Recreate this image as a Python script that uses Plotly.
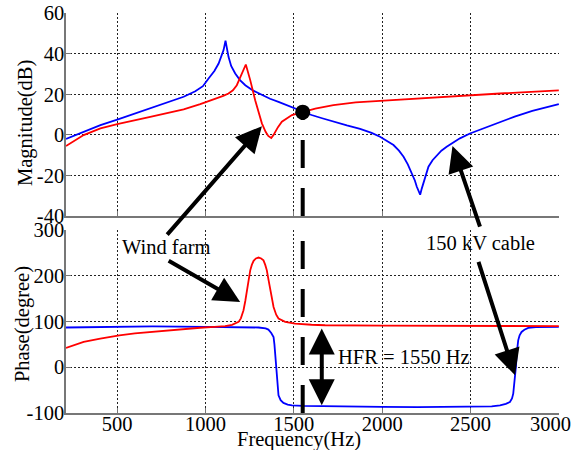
import plotly.graph_objects as go

# ---- Magnitude (dB) ----
freq_cable_mag = [210, 310, 405, 500, 590, 687, 782, 876, 942, 985, 1017, 1050, 1074, 1090,
                  1102, 1113, 1122, 1130, 1145, 1168, 1195, 1225, 1270, 1319, 1365, 1413,
                  1460, 1507, 1550, 1600, 1660, 1724, 1800, 1875, 1940, 1988, 2030, 2064,
                  2095, 2121, 2145, 2168, 2185, 2196, 2207, 2215, 2224, 2234, 2248, 2262,
                  2285, 2309, 2335, 2365, 2400, 2440, 2497, 2550, 2592, 2667, 2750, 2850,
                  2930, 3000]
mag_cable = [-2, 1.5, 4.8, 7.5, 10.2, 13, 16, 18.8, 21.5, 24, 27.8, 31.5, 35.2, 39,
             41.8, 46.4, 42, 38.5, 34, 30.3, 27, 24.5, 21.8, 19.6, 17.8, 16.3,
             14.6, 13, 11.3, 9.8, 8.2, 6.5, 4.7, 3, 1, -0.9, -3, -5,
             -7.8, -10.8, -14.5, -19, -22.5, -25.6, -28, -29.5, -26.5, -23.9, -19.5, -15.7,
             -12.5, -10, -7.8, -5.9, -3.8, -1.7, 0.7, 2.5, 4, 6.5, 9, 11.8,
             13.6, 15.2]

freq_wf_mag = [210, 310, 405, 500, 687, 876, 970, 1036, 1100, 1130, 1155, 1177, 1190, 1206,
               1228, 1253, 1281, 1319, 1340, 1355, 1372, 1385, 1394, 1410, 1432, 1460,
               1489, 1550, 1621, 1724, 1850, 1988, 2200, 2400, 2667, 3000]
mag_wf = [-5.5, -0.1, 3.2, 5.3, 8.9, 12.6, 15.2, 17.1, 19.2, 20.4, 22, 24.5, 27, 30.3,
          34.7, 27, 17.1, 5.7, 1.5, -0.5, -1.5, 0, 1.5, 3.8, 6.5, 8.3,
          9.8, 11.2, 13, 14.7, 16, 16.8, 18, 19.2, 20.4, 21.9]

# ---- Phase (degree) ----
freq_cable_ph = [210, 500, 700, 1000, 1111, 1200, 1300, 1340, 1356, 1372, 1385, 1390, 1394,
                 1399, 1404, 1408, 1413, 1425, 1441, 1465, 1489, 1550, 1677, 2000, 2200,
                 2554, 2620, 2667, 2700, 2723, 2735, 2742, 2750, 2757, 2763, 2770, 2778,
                 2789, 2805, 2827, 2870, 2911, 3000]
phase_cable = [87, 88, 89.5, 88.5, 88.5, 88, 87, 85, 82.5, 75, 66.4, 50, 30,
               0, -28.4, -48, -61.3, -72, -78, -81.5, -83.2, -84.5, -85.4, -86.5, -87,
               -86.9, -85.5, -83.2, -80, -75.9, -68, -57.6, -30, 0.7, 35, 59, 70,
               77.3, 82, 86, 87.8, 88.3, 88.3]

freq_wf_ph = [210, 310, 404, 512, 600, 688, 780, 876, 970, 1050, 1111, 1150, 1187, 1200,
              1215, 1225, 1234, 1243, 1253, 1262, 1272, 1285, 1300, 1315, 1328, 1338,
              1347, 1357, 1366, 1375, 1385, 1400, 1413, 1451, 1507, 1600, 1677, 2000,
              2500, 3000]
phase_wf = [42.3, 55.6, 62.9, 70, 74, 77.3, 80.5, 83.2, 86.5, 88.5, 90, 93, 99.3, 107,
            124.8, 145, 168.6, 190, 212, 224, 232.8, 238, 240, 238, 234, 224,
            212, 190, 168.6, 150, 132, 115, 106.7, 99.3, 95.6, 93, 92, 91,
            90, 90]

# High-frequency resonance point
hfr_freq = 1550
hfr_mag = 11.2

# Axis ranges and ticks
freq_range = [210, 3001]
freq_ticks = [500, 1000, 1500, 2000, 2500, 3000]
freq_ticktext = ["500", "1000", "1500", "2000", "2500", "3000"]
mag_range = [-40, 60.1]
mag_ticks = [-40, -20, 0, 20, 40, 60]
mag_ticktext = ["-40", "-20", "0", "20", "40", "60"]
phase_range = [-100, 300.3]
phase_ticks = [-100, 0, 100, 200, 300]
phase_ticktext = ["-100", "0", "100", "200", "300"]

BLUE = "#0000ff"
RED = "#ff0000"
FONT = "Liberation Serif, Times New Roman, serif"
FS = 20.5

fig = go.Figure()

fig.add_trace(go.Scatter(x=freq_cable_mag, y=mag_cable, mode="lines",
                         line=dict(color=BLUE, width=1.8), xaxis="x", yaxis="y"))
fig.add_trace(go.Scatter(x=freq_wf_mag, y=mag_wf, mode="lines",
                         line=dict(color=RED, width=1.8), xaxis="x", yaxis="y"))
fig.add_trace(go.Scatter(x=freq_cable_ph, y=phase_cable, mode="lines",
                         line=dict(color=BLUE, width=1.8), xaxis="x2", yaxis="y2"))
fig.add_trace(go.Scatter(x=freq_wf_ph, y=phase_wf, mode="lines",
                         line=dict(color=RED, width=1.8), xaxis="x2", yaxis="y2"))

# Dashed marker line through both panels at the resonance frequency
fig.add_trace(go.Scatter(x=[hfr_freq, hfr_freq], y=[mag_range[0], hfr_mag], mode="lines",
                         line=dict(color="black", width=4, dash="28px,20px"),
                         xaxis="x", yaxis="y"))
fig.add_trace(go.Scatter(x=[hfr_freq, hfr_freq], y=[phase_range[0], 300], mode="lines",
                         line=dict(color="black", width=4, dash="28px,20px"),
                         xaxis="x2", yaxis="y2"))
fig.add_trace(go.Scatter(x=[hfr_freq], y=[hfr_mag], mode="markers",
                         marker=dict(color="black", size=15), xaxis="x", yaxis="y"))

axis_common = dict(
    showgrid=True, gridcolor="#222", griddash="2px,2px", gridwidth=1,
    showline=True, linecolor="#777", linewidth=1.5,
    ticks="inside", ticklen=5, tickcolor="#777",
    zeroline=False, automargin=False,
    tickfont=dict(family=FONT, size=FS, color="black"),
)

fig.update_layout(
    width=576, height=450,
    margin=dict(l=66, r=17, t=13, b=37),
    paper_bgcolor="white", plot_bgcolor="white",
    showlegend=False,
    font=dict(family=FONT, size=FS, color="black"),
    xaxis=dict(domain=[0, 1], range=freq_range, anchor="y", tickvals=freq_ticks,
               showticklabels=False, **axis_common),
    yaxis=dict(domain=[0.4925, 1], range=mag_range, anchor="x", tickvals=mag_ticks,
               ticktext=mag_ticktext, ticklabelstandoff=-4, **axis_common),
    # the last label sits at the page edge, so it is placed separately below
    xaxis2=dict(domain=[0, 1], range=freq_range, anchor="y2", tickvals=freq_ticks,
                ticktext=freq_ticktext[:-1] + [""], ticklabelstandoff=-8, **axis_common),
    yaxis2=dict(domain=[0, 0.4575], range=phase_range, anchor="x2", tickvals=phase_ticks,
                ticktext=phase_ticktext, ticklabelstandoff=-4, **axis_common),
)

arrow_style = dict(showarrow=True, text="", arrowhead=2, arrowsize=1.3, arrowwidth=4,
                   arrowcolor="black", standoff=0)

annotations = [
    # right-most frequency tick label, pulled in from the page edge
    dict(text=freq_ticktext[-1], xref="x2", yref="paper", x=freq_ticks[-1], y=-0.028,
         xshift=-8, showarrow=False, xanchor="center", yanchor="middle"),
    # axis titles
    dict(text="Magnitude(dB)", xref="paper", yref="paper", x=-0.083, y=0.725,
         textangle=-90, showarrow=False, xanchor="center", yanchor="middle"),
    dict(text="Phase(degree)", xref="paper", yref="paper", x=-0.089, y=0.2225,
         textangle=-90, showarrow=False, xanchor="center", yanchor="middle"),
    dict(text="Frequency(Hz)", xref="paper", yref="paper", x=0.4726, y=-0.065,
         showarrow=False, xanchor="center", yanchor="middle"),
    # labels
    dict(text="Wind farm", xref="x2", yref="y2", x=778, y=263, showarrow=False),
    dict(text="150 kV cable", xref="x2", yref="y2", x=2559, y=271, showarrow=False),
    dict(text="HFR = 1550 Hz", xref="x2", yref="y2", x=2124, y=22, showarrow=False),
    # pointer arrows
    dict(xref="x", yref="y", x=1319, y=4.3, ax=-96, ay=110, **arrow_style),
    dict(xref="x2", yref="y2", x=1196, y=143, ax=-73, ay=-42, **arrow_style),
    dict(xref="x", yref="y", x=2398, y=-5.5, ax=28, ay=82, **arrow_style),
    dict(xref="x2", yref="y2", x=2752, y=-17.5, ax=-37, ay=-115, **arrow_style),
    # double-headed arrow spanning the phase difference
    dict(xref="x2", yref="y2", x=1658, y=-83, axref="x2", ayref="y2", ax=1658, ay=88.3,
         arrowside="end+start", startarrowhead=2, startarrowsize=1.3, **arrow_style),
]
fig.update_layout(annotations=annotations)

fig.write_html("out.html")
